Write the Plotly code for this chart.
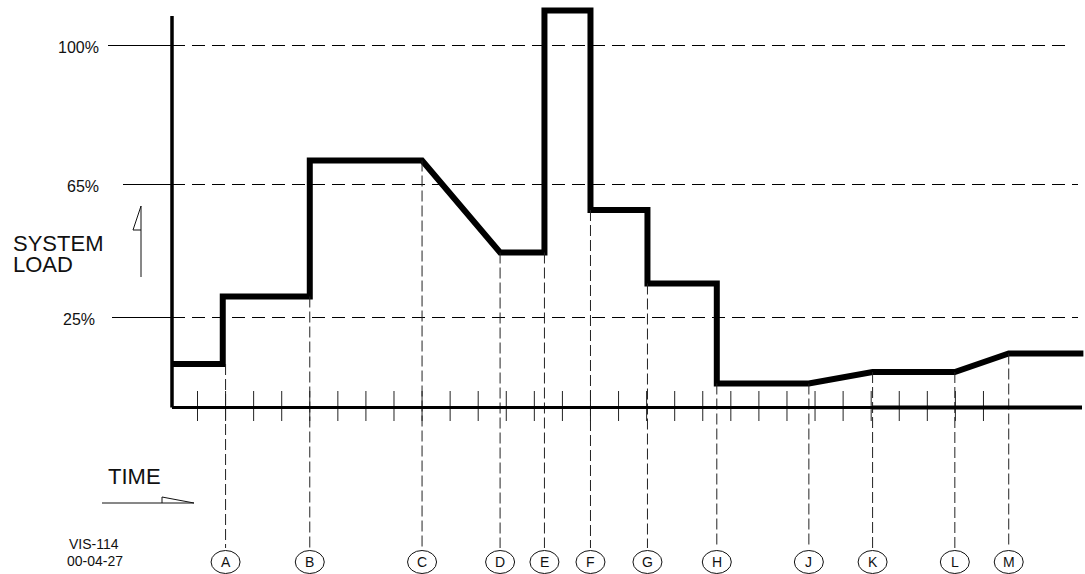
import plotly.graph_objects as go

# load profile (time in tick units, load in schematic height units above the time axis)
load_time = [0.1, 1.9, 1.9, 5.0, 5.0, 9.0, 11.78, 13.36, 13.36, 15.0, 15.0, 17.03, 17.03,
             19.5, 19.5, 22.78, 25.05, 27.98, 29.9, 32.56]
load_level = [43.5, 43.5, 111, 111, 247, 247, 155, 155, 397, 397, 197.5, 197.5, 124,
              124, 24, 24, 35.5, 35.5, 54, 54]

# events marked under the time axis
event_labels = ["A", "B", "C", "D", "E", "F", "G", "H", "J", "K", "L", "M"]
event_time = [2.0, 5.0, 9.0, 11.78, 13.36, 15.0, 17.03, 19.5, 22.78, 25.05, 27.98, 29.9]

# reference load levels
level_labels = ["100%", "65%", "25%"]
level_values = [362, 223, 90]

# time axis ticks
tick_times = list(range(1, 30))

# pixel <-> data helpers (schematic drawing)
W, H = 1085, 574
X0, DX = 169.43, 28.07
Y0 = 407.5


def tx(px):
    return (px - X0) / DX


def ty(py):
    return Y0 - py


FONT = "Liberation Sans"
fig = go.Figure()

# reference levels: solid stub at left, dashed across the chart
solid_start = [108, 123, 112]
dash_end = [1072, 1078, 1078]
label_right = [101, 101, 97]
for lab, val, s0, e1, lr in zip(level_labels, level_values, solid_start, dash_end, label_right):
    fig.add_shape(type="line", x0=tx(s0), x1=tx(172), y0=val, y1=val,
                  line=dict(color="black", width=1))
    fig.add_shape(type="line", x0=tx(172), x1=tx(e1), y0=val, y1=val,
                  line=dict(color="black", width=1, dash="13px,7px"))
    fig.add_annotation(x=tx(lr), y=val - 2, text=lab, showarrow=False, xanchor="right",
                       yanchor="middle", font=dict(family=FONT, size=16, color="#111"))

# dashed event markers from the load line down to the labels
for lab, t in zip(event_labels, event_time):
    near = [v for tt, v in zip(load_time, load_level) if abs(tt - t) < 0.15]
    top = min(near) if near else 0
    fig.add_shape(type="line", x0=t, x1=t, y0=top, y1=ty(548),
                  line=dict(color="#222", width=1, dash="11px,4px"))
    fig.add_shape(type="circle", x0=t - 14.5 / DX, x1=t + 14.5 / DX,
                  y0=ty(562) - 11.5, y1=ty(562) + 11.5,
                  line=dict(color="#111", width=1), fillcolor="white")
    fig.add_annotation(x=t, y=ty(562), text=lab, showarrow=False,
                       font=dict(family=FONT, size=14, color="#111"))

# ticks on the time axis
for t in tick_times:
    fig.add_shape(type="line", x0=t, x1=t, y0=ty(391), y1=ty(421),
                  line=dict(color="#222", width=1))

# axes (the time axis is drawn a touch heavier from K onwards)
fig.add_shape(type="line", x0=tx(172), x1=tx(172), y0=ty(16), y1=0,
              line=dict(color="black", width=3.5))
fig.add_shape(type="line", x0=tx(172), x1=tx(1082), y0=0, y1=0,
              line=dict(color="black", width=3))
fig.add_shape(type="line", x0=event_time[9], x1=tx(1082), y0=0, y1=0,
              line=dict(color="black", width=4))

# load curve
fig.add_trace(go.Scatter(x=load_time, y=load_level, mode="lines",
                         line=dict(color="black", width=6), hoverinfo="skip"))

# axis captions with their arrows
fig.add_annotation(x=tx(11), y=ty(243), text="SYSTEM", showarrow=False, xanchor="left",
                   font=dict(family=FONT, size=22, color="#111"))
fig.add_annotation(x=tx(11), y=ty(264), text="LOAD", showarrow=False, xanchor="left",
                   font=dict(family=FONT, size=22, color="#111"))
fig.add_trace(go.Scatter(x=[tx(141), tx(141), None, tx(141), tx(133), tx(141)],
                         y=[ty(277), ty(206), None, ty(206), ty(230), ty(230)],
                         mode="lines", line=dict(color="#111", width=1), hoverinfo="skip"))

fig.add_annotation(x=tx(106), y=ty(476), text="TIME", showarrow=False, xanchor="left",
                   font=dict(family=FONT, size=22, color="#111"))
fig.add_trace(go.Scatter(x=[tx(102), tx(194), None, tx(162), tx(162), tx(194)],
                         y=[ty(503), ty(503), None, ty(503), ty(497), ty(503)],
                         mode="lines", line=dict(color="#111", width=1), hoverinfo="skip"))

fig.add_annotation(x=tx(67), y=ty(544), text="VIS-114", showarrow=False, xanchor="left",
                   font=dict(family=FONT, size=14, color="#111"))
fig.add_annotation(x=tx(65), y=ty(561), text="00-04-27", showarrow=False, xanchor="left",
                   font=dict(family=FONT, size=14, color="#111"))

fig.update_layout(
    width=W, height=H,
    margin=dict(l=0, r=0, t=0, b=0),
    paper_bgcolor="white", plot_bgcolor="white",
    showlegend=False,
    xaxis=dict(range=[tx(0), tx(W)], visible=False, fixedrange=True),
    yaxis=dict(range=[ty(H), ty(0)], visible=False, fixedrange=True),
)

fig.write_html("out.html", config={"displayModeBar": False},
               post_script="document.body.style.margin='0';document.body.style.overflow='hidden';")
